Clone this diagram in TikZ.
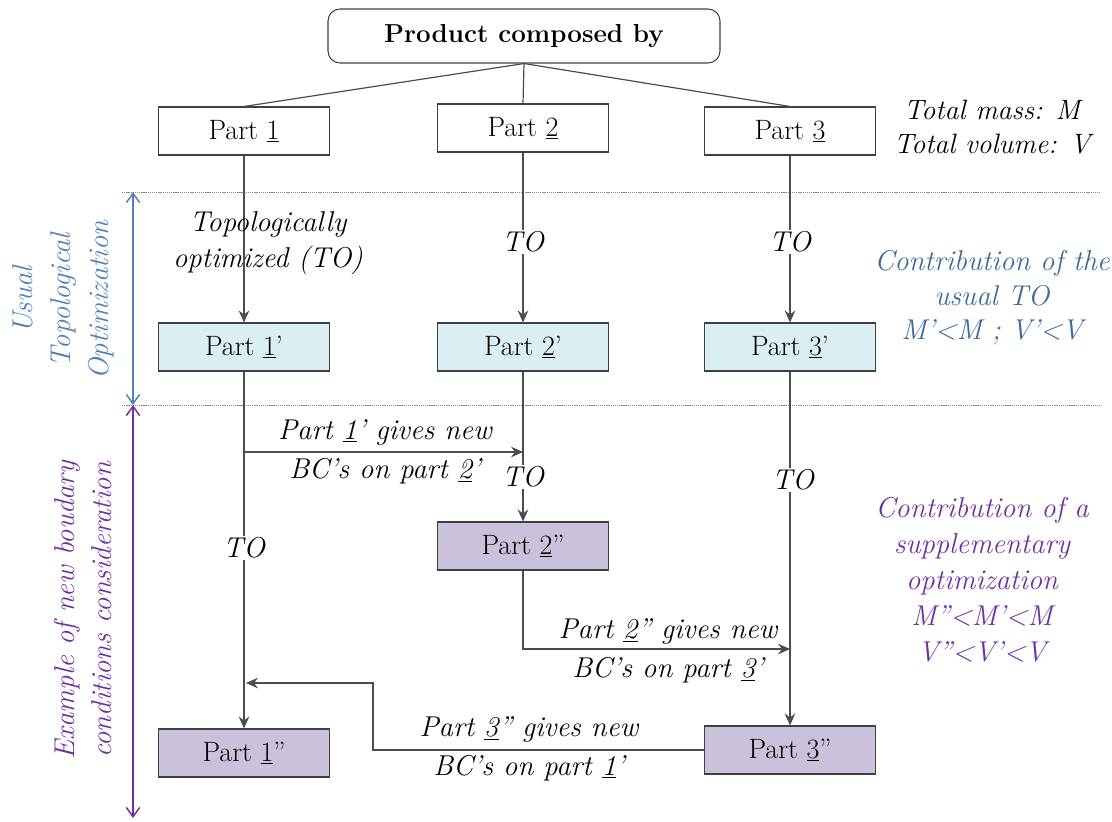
\documentclass[tikz,border=0pt]{standalone}
\usetikzlibrary{arrows.meta}
\definecolor{boxblue}{HTML}{DAEEF3}
\definecolor{boxpurple}{HTML}{CCC1DA}
\definecolor{arrblue}{HTML}{4F81BD}
\definecolor{txtblue}{HTML}{3C6A9E}
\definecolor{txtpurple}{HTML}{7030A0}
\begin{document}
\begin{tikzpicture}[x=0.75pt,y=-0.75pt,
  font=\fontsize{21}{25}\selectfont,
  partbox/.style={draw=black!75, line width=0.8pt, minimum width=128pt, minimum height=36pt, inner sep=0pt},
  conn/.style={draw=black!70, line width=0.9pt},
  arr/.style={conn, -{Stealth[length=9pt,width=8pt,inset=3pt]}},
  lab/.style={font=\fontsize{21.5}{27}\selectfont\itshape, align=center, inner sep=1pt},
  tolab/.style={lab, fill=white},
  sep/.style={draw=black!45, line width=0.7pt, dash pattern=on 1pt off 0.6pt},
  band/.style={line width=1.1pt, {Straight Barb[length=7pt,width=10pt]}-{Straight Barb[length=7pt,width=10pt]}}
]
\useasboundingbox (0,0) rectangle (1112,821);

% separators
\draw[sep] (122,192) -- (1100,192);
\draw[sep] (122,405) -- (1100,405);

% side bands
\draw[band, arrblue] (133,192) -- (133,405);
\draw[band, txtpurple] (133,405) -- (133,818);
\node[lab, rotate=90, text=arrblue, font=\fontsize{21.5}{28.5}\selectfont\itshape] (ltxt1) at (63,300) {Usual\\Topological\\Optimization};
\node[lab, rotate=90, text=txtpurple, font=\fontsize{21.5}{28}\selectfont\itshape] (ltxt2) at (83,610) {Example of new boudary\\conditions consideration};

% top
\node[draw=black!75, line width=0.8pt, rounded corners=9pt, minimum width=294pt, minimum height=40.5pt, font=\fontsize{19.5}{23}\selectfont] (prod) at (524,36) {\textbf{Product\ composed by}};
\node[partbox] (p1) at (244,131) {Part \underline{1}};
\node[partbox] (p2) at (523,128) {Part \underline{2}};
\node[partbox] (p3) at (790,131) {Part \underline{3}};
\draw[conn] (prod.south) -- (p1.north);
\draw[conn] (prod.south) -- (p2.north);
\draw[conn] (prod.south) -- (p3.north);

\node[lab, font=\fontsize{21}{25}\selectfont\itshape] (tot) at (992,127) {Total mass: M\\Total volume: V};

% first TO level
\node[partbox, fill=boxblue] (p1a) at (244,347) {Part \underline{1}’};
\node[partbox, fill=boxblue] (p2a) at (523,347) {Part \underline{2}’};
\node[partbox, fill=boxblue] (p3a) at (790,347) {Part \underline{3}’};
\draw[arr] (p1) -- (p1a);
\draw[arr] (p2) -- (p2a);
\draw[arr] (p3) -- (p3a);
\node[lab] (t1) at (268,243) {Topologically\\optimized (TO)};
\node[tolab] (t2) at (523,242) {TO};
\node[tolab] (t3) at (790,242) {TO};

\node[lab, text=txtblue, font=\fontsize{21.5}{26}\selectfont\itshape] (cu) at (992,298) {Contribution of the\\usual TO\\M’<M ; V’<V};

% second level
\node[partbox, fill=boxpurple] (p2b) at (523,546) {Part \underline{2}”};
\node[partbox, fill=boxpurple] (p1b) at (244,753) {Part \underline{1}”};
\node[partbox, fill=boxpurple] (p3b) at (790,750) {Part \underline{3}”};

\coordinate (b1) at (244,452);
\coordinate (b2) at (523,452);
\coordinate (b3) at (790,649);
\coordinate (b4) at (373,750);
\coordinate (b5) at (246,683);

\draw[arr] (p1a) -- (p1b);
\draw[arr] (p2a) -- (p2b);
\draw[arr] (p3a) -- (p3b);
\draw[arr] (b1) -- (b2);
\draw[arr] (p2b.south) |- (b3);
\draw[arr] (p3b.west) -- (b4) |- (b5);

\node[tolab] (t4) at (523,477) {TO};
\node[tolab] (t5) at (244,548) {TO};
\node[tolab] (t6) at (793,480) {TO};

\node[lab] (g1) at (385,452) {Part \underline{1}’ gives new\\[2pt]BC’s on part \underline{2}’};
\node[lab] (g2) at (668,651) {Part \underline{2}” gives new\\[2pt]BC’s on part \underline{3}’};
\node[lab] (g3) at (529,749) {Part \underline{3}” gives new\\[2pt]BC’s on part \underline{1}’};

\node[lab, text=txtpurple, font=\fontsize{21.5}{27}\selectfont\itshape] (cs) at (982,580) {Contribution of a\\supplementary\\optimization\\M”<M’<M\\V”<V’<V};
\end{tikzpicture}
\end{document}
